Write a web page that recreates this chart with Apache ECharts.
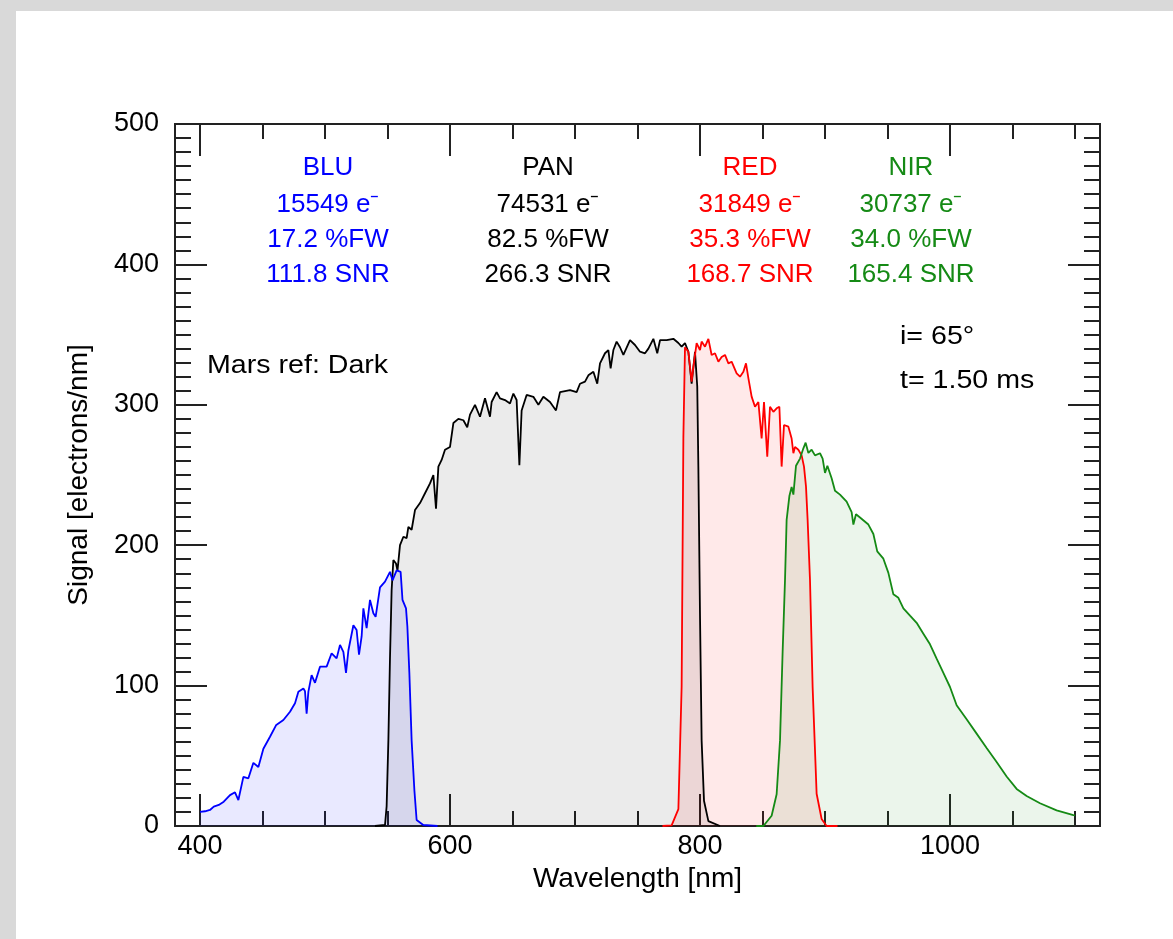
<!DOCTYPE html>
<html>
<head>
<meta charset="utf-8">
<script src="https://cdn.jsdelivr.net/npm/echarts@6/dist/echarts.min.js"></script>
<style>
  html, body { margin: 0; padding: 0; background: #d9d9d9; width: 1173px; height: 939px; overflow: hidden; }
  #chart { position: absolute; left: 16px; top: 11px; width: 1157px; height: 928px; background: #ffffff; }
</style>
</head>
<body>
<div id="chart"></div>
<script>
// ---------------- data ----------------
const bluWl  = [400,404,408,411,415,419,424,428,430.7,434.7,438.7,442.7,446.7,450.7,456,461,466.7,472,476,478.7,482.7,484,485.3,486.7,489.3,492,496,501.3,505.3,509.3,512,514.7,516.8,518.7,522.7,525.3,527.2,529.3,530.7,533.3,536,538.7,540.5,544,548,552,554,557.3,560.5,562,564.8,565.9,567.5,569.3,571.5,573.3,578.6,590];
const bluSig = [10,10.5,11.4,13.8,15,17.3,22,24,18.5,35,34,45,42,55,63.6,72,75.5,81.4,87.4,95.7,98,96,80,95.7,107.5,102,113.5,113.5,123,119.4,129,124,109,125,143,139.6,122,135,155,141,161,151.5,149,170,174,181,175,182,181,161,155,142,108.7,61,25.6,4.3,0.7,0];

const panWl  = [540,548,549.3,550.7,552,553.3,554.7,556.8,558,560,562.7,565.3,566.7,569.3,572,576,580,584,586.7,588.8,590.7,593.3,596,600,602.7,606.7,610.7,613.8,616,620,624,628,632,633.3,637.3,640,644,648,650.7,653.3,655.5,657.3,661.3,666.7,670.7,674.7,680,684.8,688,696,701.3,704,708,710.7,714.7,717.8,720,724,726.7,728.5,730.7,733.3,736,738.7,744,748,752,756,758.7,762.7,765.8,768,773.3,778.7,782.7,785.3,788,790.7,793.3,796,797.8,798.7,800,801.3,803.2,806.7,816];
const panSig = [0,0.7,14,61,120,168,189.5,187,182,200,206,205,213,211,225,230,237,244,250,226,256,260.7,268,270,287,290,289,284,293,300,291.5,304.6,291.5,302,309,304.6,303.4,301,308,303.4,257,296,307,305.7,300,305.7,302,296,309,310.5,309,315,316.5,321,323.5,315,329.5,336.7,339,326,339,345,341,335.5,346,342.6,337.8,336.7,340,347,336.7,346,346,347,344,341.4,344,337.8,315,337.8,313,255,150,61,18,3.5,0];

const redWl  = [770,777.3,782.7,785.3,786.7,788,790.7,793.3,794.7,797.3,800,801.3,804,806.7,809.3,812,814.7,817.3,820,822.7,825.3,829.3,832,834.7,836.8,838.7,841.3,844,846.7,849.3,851.2,853.8,856,858.7,861.3,863.5,865.3,867.2,870.7,873.3,874.7,876,878.7,881.3,883.2,884.8,886.1,888,890.1,893.3,897.3,901.3,910];
const redSig = [0,0.5,12,99,277,341,337.8,316.5,327,344,339,345,341.4,347,335.5,336.7,330.7,334,335.5,329.5,330.7,322.4,320,323.5,329.5,319,305.8,298.6,302,276,302,263,298.6,295,297.5,298.6,256,285.6,284.4,276,265.5,270,268,264,256,241.7,218,175,99,23,5,0,0];

const nirWl  = [845,850.7,857.3,861.3,864,866.1,868,869.3,871.5,873.3,874.7,876.8,880,882.7,884.5,886.7,889.3,892,896,898.1,900,901.9,905.3,908,912,917.3,921.3,922.7,924.8,928,934.7,938.7,941.8,946.7,950.7,954.7,958.7,962.7,968,973.3,978.7,984,989.3,994.7,1000,1005.3,1013.3,1021.3,1029.3,1037.3,1045.3,1053.3,1061.3,1072,1085.3,1098.7,1100];
const nirSig = [0,0,7.3,22.6,60.8,124,175,218,235,241.5,236,256.6,261.7,269,273,265.7,268,264,265.5,261.7,251.5,256.6,247.7,238.8,236,231,223.6,214.7,222,219.7,214.7,208,195.6,190.4,180.3,165,162.5,155,149.8,144.7,137,129.4,119.2,109,99,86,76,65.8,55.6,45.6,35.3,26.4,21.4,16.2,11.1,7.8,7.5];

const xMajorTicks = [400, 600, 800, 1000];
const xMinorTicks = [450, 500, 550, 650, 700, 750, 850, 900, 950, 1050, 1100];

const bandNames = ['BLU', 'PAN', 'RED', 'NIR'];
const bandElectrons = ['15549', '74531', '31849', '30737'];
const bandFW = ['17.2', '82.5', '35.3', '34.0'];
const bandSNR = ['111.8', '266.3', '168.7', '165.4'];

// ---------------- styling ----------------
const FONT = '"Liberation Sans", Arial, Helvetica, sans-serif';
const AX = '#222222';
const bandColors = ['#0000ff', '#000000', '#ff0000', '#158a15'];
const bandFill = ['rgba(0,0,255,0.12)', 'rgba(0,0,0,0.11)', 'rgba(255,0,0,0.12)', 'rgba(21,138,21,0.12)'];

const pairs = (w, s) => w.map((x, i) => [x, s[i]]);
const plain = v => String(v);

function xAx(pos, ticks, len, labels, extra) {
  return Object.assign({
    type: 'value', position: pos, min: 380, max: 1120,
    axisLine: { show: true, onZero: false, lineStyle: { color: AX, width: 2 } },
    axisTick: { show: true, inside: true, length: len, customValues: ticks, lineStyle: { color: AX, width: 2 } },
    axisLabel: labels ? { show: true, customValues: ticks, formatter: plain, margin: 7, fontSize: 27, color: '#000', fontFamily: FONT } : { show: false },
    splitLine: { show: false }
  }, extra || {});
}
function yAx(pos, labels, extra) {
  return Object.assign({
    type: 'value', position: pos, min: 0, max: 500, interval: 100,
    axisLine: { show: true, onZero: false, lineStyle: { color: AX, width: 2 } },
    axisTick: { show: true, inside: true, length: 32, lineStyle: { color: AX, width: 2 } },
    minorTick: { show: true, splitNumber: 10, length: 16, lineStyle: { color: AX, width: 2 } },
    axisLabel: labels ? { show: true, formatter: plain, margin: 16, fontSize: 27, color: '#000', fontFamily: FONT } : { show: false },
    splitLine: { show: false }, minorSplitLine: { show: false }
  }, extra || {});
}

const series = [
  [panWl, panSig, 1], [bluWl, bluSig, 0], [redWl, redSig, 2], [nirWl, nirSig, 3]
].map(([w, s, k]) => ({
  type: 'line', name: bandNames[k], data: pairs(w, s), xAxisIndex: 0, yAxisIndex: 0,
  showSymbol: false, symbol: 'none', smooth: false, silent: true,
  lineStyle: { color: bandColors[k], width: 1.8 },
  areaStyle: { color: bandFill[k], origin: 0 },
  z: 2
}));

// annotation text (page coordinates minus the chart div offset)
const OX = 16, OY = 11;
const colX = [328, 548, 750, 911];
const rowY = [168, 205, 240, 275];
const graphics = [];
bandNames.forEach((nm, k) => {
  const lines = [nm, bandElectrons[k] + ' e\u207B', bandFW[k] + ' %FW', bandSNR[k] + ' SNR'];
  lines.forEach((t, r) => {
    graphics.push({
      type: 'text', x: colX[k] - OX, y: rowY[r] - OY, silent: true,
      style: { text: t, fill: bandColors[k], fontSize: 26, fontFamily: FONT, align: 'center', verticalAlign: 'middle' }
    });
  });
});
[['Mars ref: Dark', 207, 366], ['i= 65\u00B0', 900, 337], ['t= 1.50 ms', 900, 381]].forEach(([t, x, y]) => {
  graphics.push({
    type: 'text', x: x - OX, y: y - OY, scaleX: 1.1, silent: true,
    style: { text: t, fill: '#000', fontSize: 26, fontFamily: FONT, align: 'left', verticalAlign: 'middle' }
  });
});

const chart = echarts.init(document.getElementById('chart'), null, { renderer: 'canvas' });
chart.setOption({
  animation: false,
  backgroundColor: '#ffffff',
  textStyle: { fontFamily: FONT },
  grid: { left: 175 - OX, right: 73, top: 124 - OY, bottom: 113, containLabel: false },
  xAxis: [
    xAx('bottom', xMajorTicks, 32, true, {
      name: 'Wavelength [nm]', nameLocation: 'middle', nameGap: 38,
      nameTextStyle: { fontSize: 28, color: '#000', fontFamily: FONT }
    }),
    xAx('bottom', xMinorTicks, 15, false),
    xAx('top', xMajorTicks, 32, false),
    xAx('top', xMinorTicks, 15, false)
  ],
  yAxis: [
    yAx('left', true, {
      name: 'Signal [electrons/nm]', nameLocation: 'middle', nameGap: 82, nameRotate: 90,
      nameTextStyle: { fontSize: 28, color: '#000', fontFamily: FONT }
    }),
    yAx('right', false)
  ],
  series: series,
  graphic: graphics
});
</script>
</body>
</html>
